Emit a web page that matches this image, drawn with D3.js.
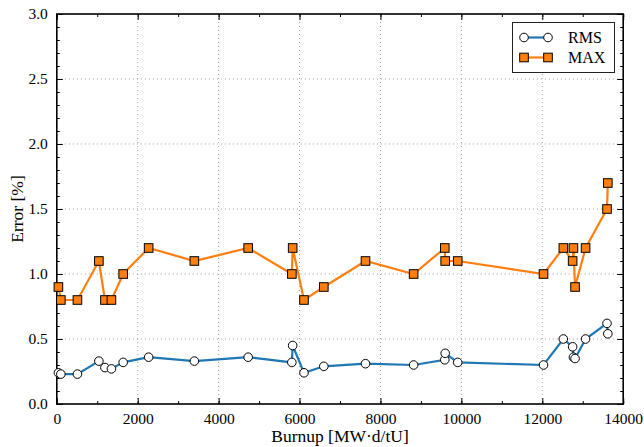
<!DOCTYPE html>
<html>
<head>
<meta charset="utf-8">
<script src="https://cdn.jsdelivr.net/npm/d3@7"></script>
<style>
  body { margin: 0; background: #fff; }
  svg { display: block; font-family: "Liberation Serif", "DejaVu Serif", serif; }
</style>
</head>
<body>
<svg id="chart" width="644" height="447"></svg>
<script>
// burnup values (MW.d/tU) and the two error series (%)
var burnup = [40, 100, 510, 1040, 1190, 1350, 1640, 2270, 3400, 4730, 5810, 5830, 6110, 6600,
              7630, 8820, 9590, 9600, 9910, 12030, 12520, 12750, 12770, 12810, 13070, 13600, 13620];
var rmsErr = [0.24, 0.23, 0.23, 0.33, 0.28, 0.27, 0.32, 0.36, 0.33, 0.36, 0.32, 0.45, 0.24, 0.29,
              0.31, 0.30, 0.34, 0.39, 0.32, 0.30, 0.50, 0.44, 0.36, 0.35, 0.50, 0.62, 0.54];
var maxErr = [0.9, 0.8, 0.8, 1.1, 0.8, 0.8, 1.0, 1.2, 1.1, 1.2, 1.0, 1.2, 0.8, 0.9,
              1.1, 1.0, 1.2, 1.1, 1.1, 1.0, 1.2, 1.1, 1.2, 0.9, 1.2, 1.5, 1.7];

var xTicks = [0, 2000, 4000, 6000, 8000, 10000, 12000, 14000];
var yTicks = [0.0, 0.5, 1.0, 1.5, 2.0, 2.5, 3.0];
var seriesNames = ["RMS", "MAX"];

var plotLeft = 56.8, plotRight = 623.2, plotTop = 14, plotBottom = 404;

var svg = d3.select("#chart");

var x = d3.scaleLinear().domain([0, 14000]).range([plotLeft, plotRight]);
var y = d3.scaleLinear().domain([0, 3]).range([plotBottom, plotTop]);

// grid
svg.append("g").selectAll("line").data(xTicks.slice(1, -1)).enter().append("line")
    .attr("x1", function(d) { return x(d); })
    .attr("x2", function(d) { return x(d); })
    .attr("y1", plotTop).attr("y2", plotBottom)
    .attr("stroke", "#a0a0a0").attr("stroke-width", 1)
    .attr("stroke-dasharray", "1,3");
svg.append("g").selectAll("line").data(yTicks.slice(1, -1)).enter().append("line")
    .attr("y1", function(d) { return y(d); })
    .attr("y2", function(d) { return y(d); })
    .attr("x1", plotLeft).attr("x2", plotRight)
    .attr("stroke", "#a0a0a0").attr("stroke-width", 1)
    .attr("stroke-dasharray", "1,3");

// axes, ticks pointing inward on all four sides
var xMinor = d3.range(0, 14001, 1000);
var yMinor = d3.range(0, 31).map(function(d) { return d / 10; });

function addAxis(makeAxis, tx, ty, major, minor, labels) {
    var gMinor = svg.append("g").attr("transform", "translate(" + tx + "," + ty + ")")
        .call(makeAxis().tickValues(minor).tickSize(-3).tickFormat(""));
    gMinor.select(".domain").remove();
    gMinor.selectAll(".tick line").attr("stroke", "#000").attr("stroke-width", 1);

    var g = svg.append("g").attr("transform", "translate(" + tx + "," + ty + ")")
        .call(makeAxis().tickValues(major).tickSize(-6).tickPadding(9)
            .tickFormat(labels ? labels : ""));
    g.select(".domain").remove();
    g.selectAll(".tick line").attr("stroke", "#000").attr("stroke-width", 1);
    g.selectAll("text").attr("font-size", 15.5).attr("fill", "#000")
        .attr("font-family", "Liberation Serif, DejaVu Serif, serif");
    return g;
}

addAxis(function() { return d3.axisBottom(x); }, 0, plotBottom, xTicks, xMinor, d3.format("d"));
addAxis(function() { return d3.axisTop(x); }, 0, plotTop, xTicks, xMinor, null);
addAxis(function() { return d3.axisLeft(y); }, plotLeft, 0, yTicks, yMinor, d3.format(".1f"));
addAxis(function() { return d3.axisRight(y); }, plotRight, 0, yTicks, yMinor, null);

svg.append("rect")
    .attr("x", plotLeft).attr("y", plotTop)
    .attr("width", plotRight - plotLeft).attr("height", plotBottom - plotTop)
    .attr("fill", "none").attr("stroke", "#000").attr("stroke-width", 1.6);

// axis titles
svg.append("text")
    .attr("x", (plotLeft + plotRight) / 2).attr("y", 442)
    .attr("text-anchor", "middle").attr("font-size", 17.5)
    .text("Burnup [MW\u00b7d/tU]");
svg.append("text")
    .attr("transform", "translate(23," + ((plotTop + plotBottom) / 2) + ") rotate(-90)")
    .attr("text-anchor", "middle").attr("font-size", 17.5)
    .text("Error [%]");

// lines
var blue = "#1f77b4", orange = "#ff7f0e";

function lineFor(values) {
    return d3.line()
        .x(function(d, i) { return x(burnup[i]); })
        .y(function(d) { return y(d); })(values);
}

var plot = svg.append("g");

plot.append("path").attr("d", lineFor(rmsErr))
    .attr("fill", "none").attr("stroke", blue).attr("stroke-width", 2.2);
plot.append("path").attr("d", lineFor(maxErr))
    .attr("fill", "none").attr("stroke", orange).attr("stroke-width", 2.2);

plot.append("g").selectAll("circle").data(rmsErr).enter().append("circle")
    .attr("cx", function(d, i) { return x(burnup[i]); })
    .attr("cy", function(d) { return y(d); })
    .attr("r", 4.3)
    .attr("fill", "#fff").attr("stroke", "#000").attr("stroke-width", 1);

plot.append("g").selectAll("rect").data(maxErr).enter().append("rect")
    .attr("x", function(d, i) { return x(burnup[i]) - 4.3; })
    .attr("y", function(d) { return y(d) - 4.3; })
    .attr("width", 8.6).attr("height", 8.6)
    .attr("fill", orange).attr("stroke", "#000").attr("stroke-width", 1);

// legend
var lg = svg.append("g");
lg.append("rect")
    .attr("x", 512.5).attr("y", 22.5).attr("width", 102).attr("height", 50)
    .attr("fill", "#fff").attr("stroke", "#222").attr("stroke-width", 1);

seriesNames.forEach(function(name, i) {
    var ly = 37.5 + i * 20;
    var col = i == 0 ? blue : orange;
    lg.append("line")
        .attr("x1", 524).attr("x2", 548).attr("y1", ly).attr("y2", ly)
        .attr("stroke", col).attr("stroke-width", 2.2);
    [524, 548].forEach(function(mx) {
        if (i == 0) {
            lg.append("circle").attr("cx", mx).attr("cy", ly).attr("r", 4.3)
                .attr("fill", "#fff").attr("stroke", "#000").attr("stroke-width", 1);
        } else {
            lg.append("rect").attr("x", mx - 4.3).attr("y", ly - 4.3).attr("width", 8.6).attr("height", 8.6)
                .attr("fill", orange).attr("stroke", "#000").attr("stroke-width", 1);
        }
    });
    lg.append("text")
        .attr("x", 568).attr("y", ly + 5)
        .attr("font-size", 16)
        .text(name);
});
</script>
</body>
</html>
